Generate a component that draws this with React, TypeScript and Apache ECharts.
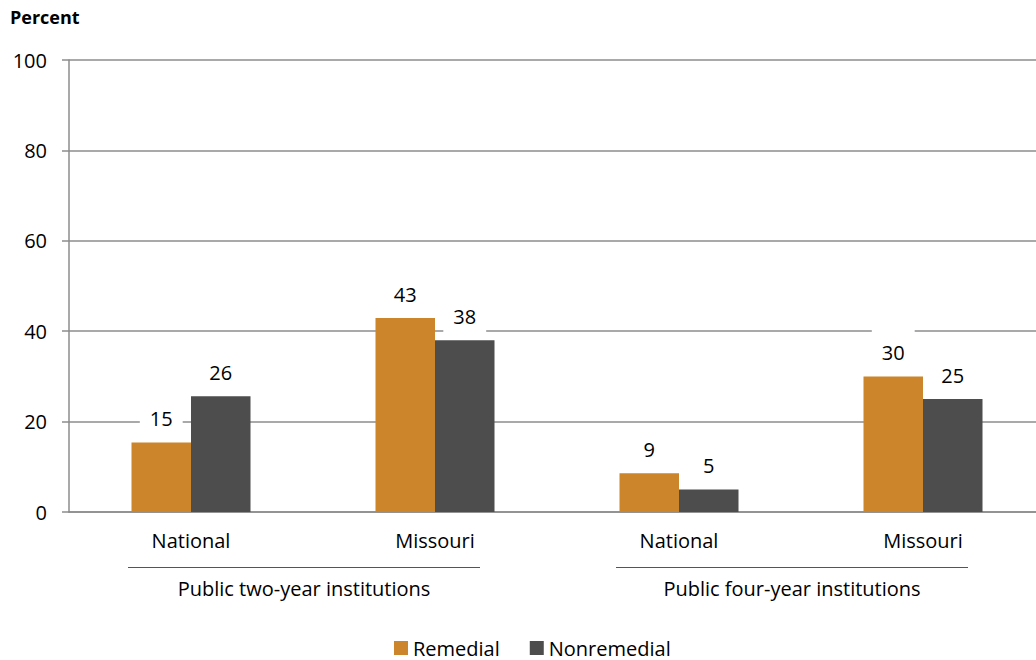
import React, { useEffect, useRef } from "react";
import * as echarts from "echarts";

const categories = ["National", "Missouri", "National", "Missouri"];
const remedial = [15.4, 42.9, 8.6, 30.0];
const nonremedial = [25.6, 38.0, 5.0, 25.0];
const seriesNames = ["Remedial", "Nonremedial"];
const groupLabels = ["Public two-year institutions", "Public four-year institutions"];
const groupStart = [0, 2];
const groupEnd = [1, 3];
const yTicks = { min: 0, max: 100, interval: 20 };

const FONT = "'Open Sans', 'Noto Sans', sans-serif";
const ORANGE = "#CC852A";
const DARK = "#4D4D4D";
const GRID = "#8C8C8C";

export default function App() {
  const ref = useRef<HTMLDivElement>(null);
  useEffect(() => {
    if (!ref.current) return;
    const chart = echarts.init(ref.current, undefined, { renderer: "svg" });
    const label = {
      show: true,
      position: "top",
      distance: 6,
      backgroundColor: "#fff",
      padding: [14, 10, 8, 10],
      fontSize: 20,
      lineHeight: 20,
      color: "#000",
      fontFamily: FONT,
      formatter: (p: any) => String(Math.round(p.value)),
    };
    chart.setOption({
      animation: false,
      textStyle: { fontFamily: FONT },
      title: {
        text: "Percent",
        left: 10,
        top: 8,
        padding: 0,
        textStyle: { fontSize: 18, fontWeight: "bold", color: "#000", fontFamily: FONT },
      },
      legend: {
        left: 394,
        top: 638,
        padding: 0,
        icon: "rect",
        itemWidth: 14,
        itemHeight: 14,
        itemGap: 30,
        textStyle: { fontSize: 20, lineHeight: 20, color: "#000", fontFamily: FONT },
        data: seriesNames,
      },
      grid: { left: 69, top: 60, width: 976, height: 452, containLabel: false },
      xAxis: {
        type: "category",
        data: categories,
        axisTick: { show: false },
        axisLine: { lineStyle: { color: GRID, width: 1.5 } },
        axisLabel: { fontSize: 20, color: "#000", margin: 18, fontFamily: FONT },
      },
      yAxis: {
        type: "value",
        min: yTicks.min,
        max: yTicks.max,
        interval: yTicks.interval,
        axisLine: { show: true, lineStyle: { color: GRID, width: 1.5 } },
        axisTick: { show: true, length: 7, lineStyle: { color: GRID, width: 1.5 } },
        axisLabel: { fontSize: 20, color: "#000", margin: 22, fontFamily: FONT },
        splitLine: { lineStyle: { color: GRID, width: 1.5 } },
      },
      series: [
        {
          name: seriesNames[0],
          type: "bar",
          data: remedial,
          barWidth: 59.5,
          barGap: "0%",
          itemStyle: { color: ORANGE },
          label,
        },
        {
          name: seriesNames[1],
          type: "bar",
          data: nonremedial,
          barWidth: 59.5,
          barGap: "0%",
          itemStyle: { color: DARK },
          label,
        },
      ],
    });

    const graphics: any[] = [];
    groupLabels.forEach((txt, i) => {
      const x0 = chart.convertToPixel({ xAxisIndex: 0 }, groupStart[i]) as number;
      const x1 = chart.convertToPixel({ xAxisIndex: 0 }, groupEnd[i]) as number;
      const lx0 = x0 - 63;
      const lx1 = x1 + 45;
      graphics.push({
        type: "line",
        shape: { x1: lx0, y1: 567.5, x2: lx1, y2: 567.5 },
        style: { stroke: "#555555", lineWidth: 1 },
        silent: true,
      });
      graphics.push({
        type: "text",
        x: (lx0 + lx1) / 2,
        y: 588,
        style: {
          text: txt,
          fontSize: 20,
          fontFamily: FONT,
          fill: "#000",
          align: "center",
          verticalAlign: "middle",
        },
        silent: true,
      });
    });
    chart.setOption({ graphic: graphics });

    return () => chart.dispose();
  }, []);
  return (
    <div
      style={{
        position: "absolute",
        left: 0,
        top: 0,
        width: 1036,
        height: 660,
        overflow: "hidden",
        background: "#fff",
      }}
    >
      <div ref={ref} style={{ width: 1046, height: 660 }} />
    </div>
  );
}
